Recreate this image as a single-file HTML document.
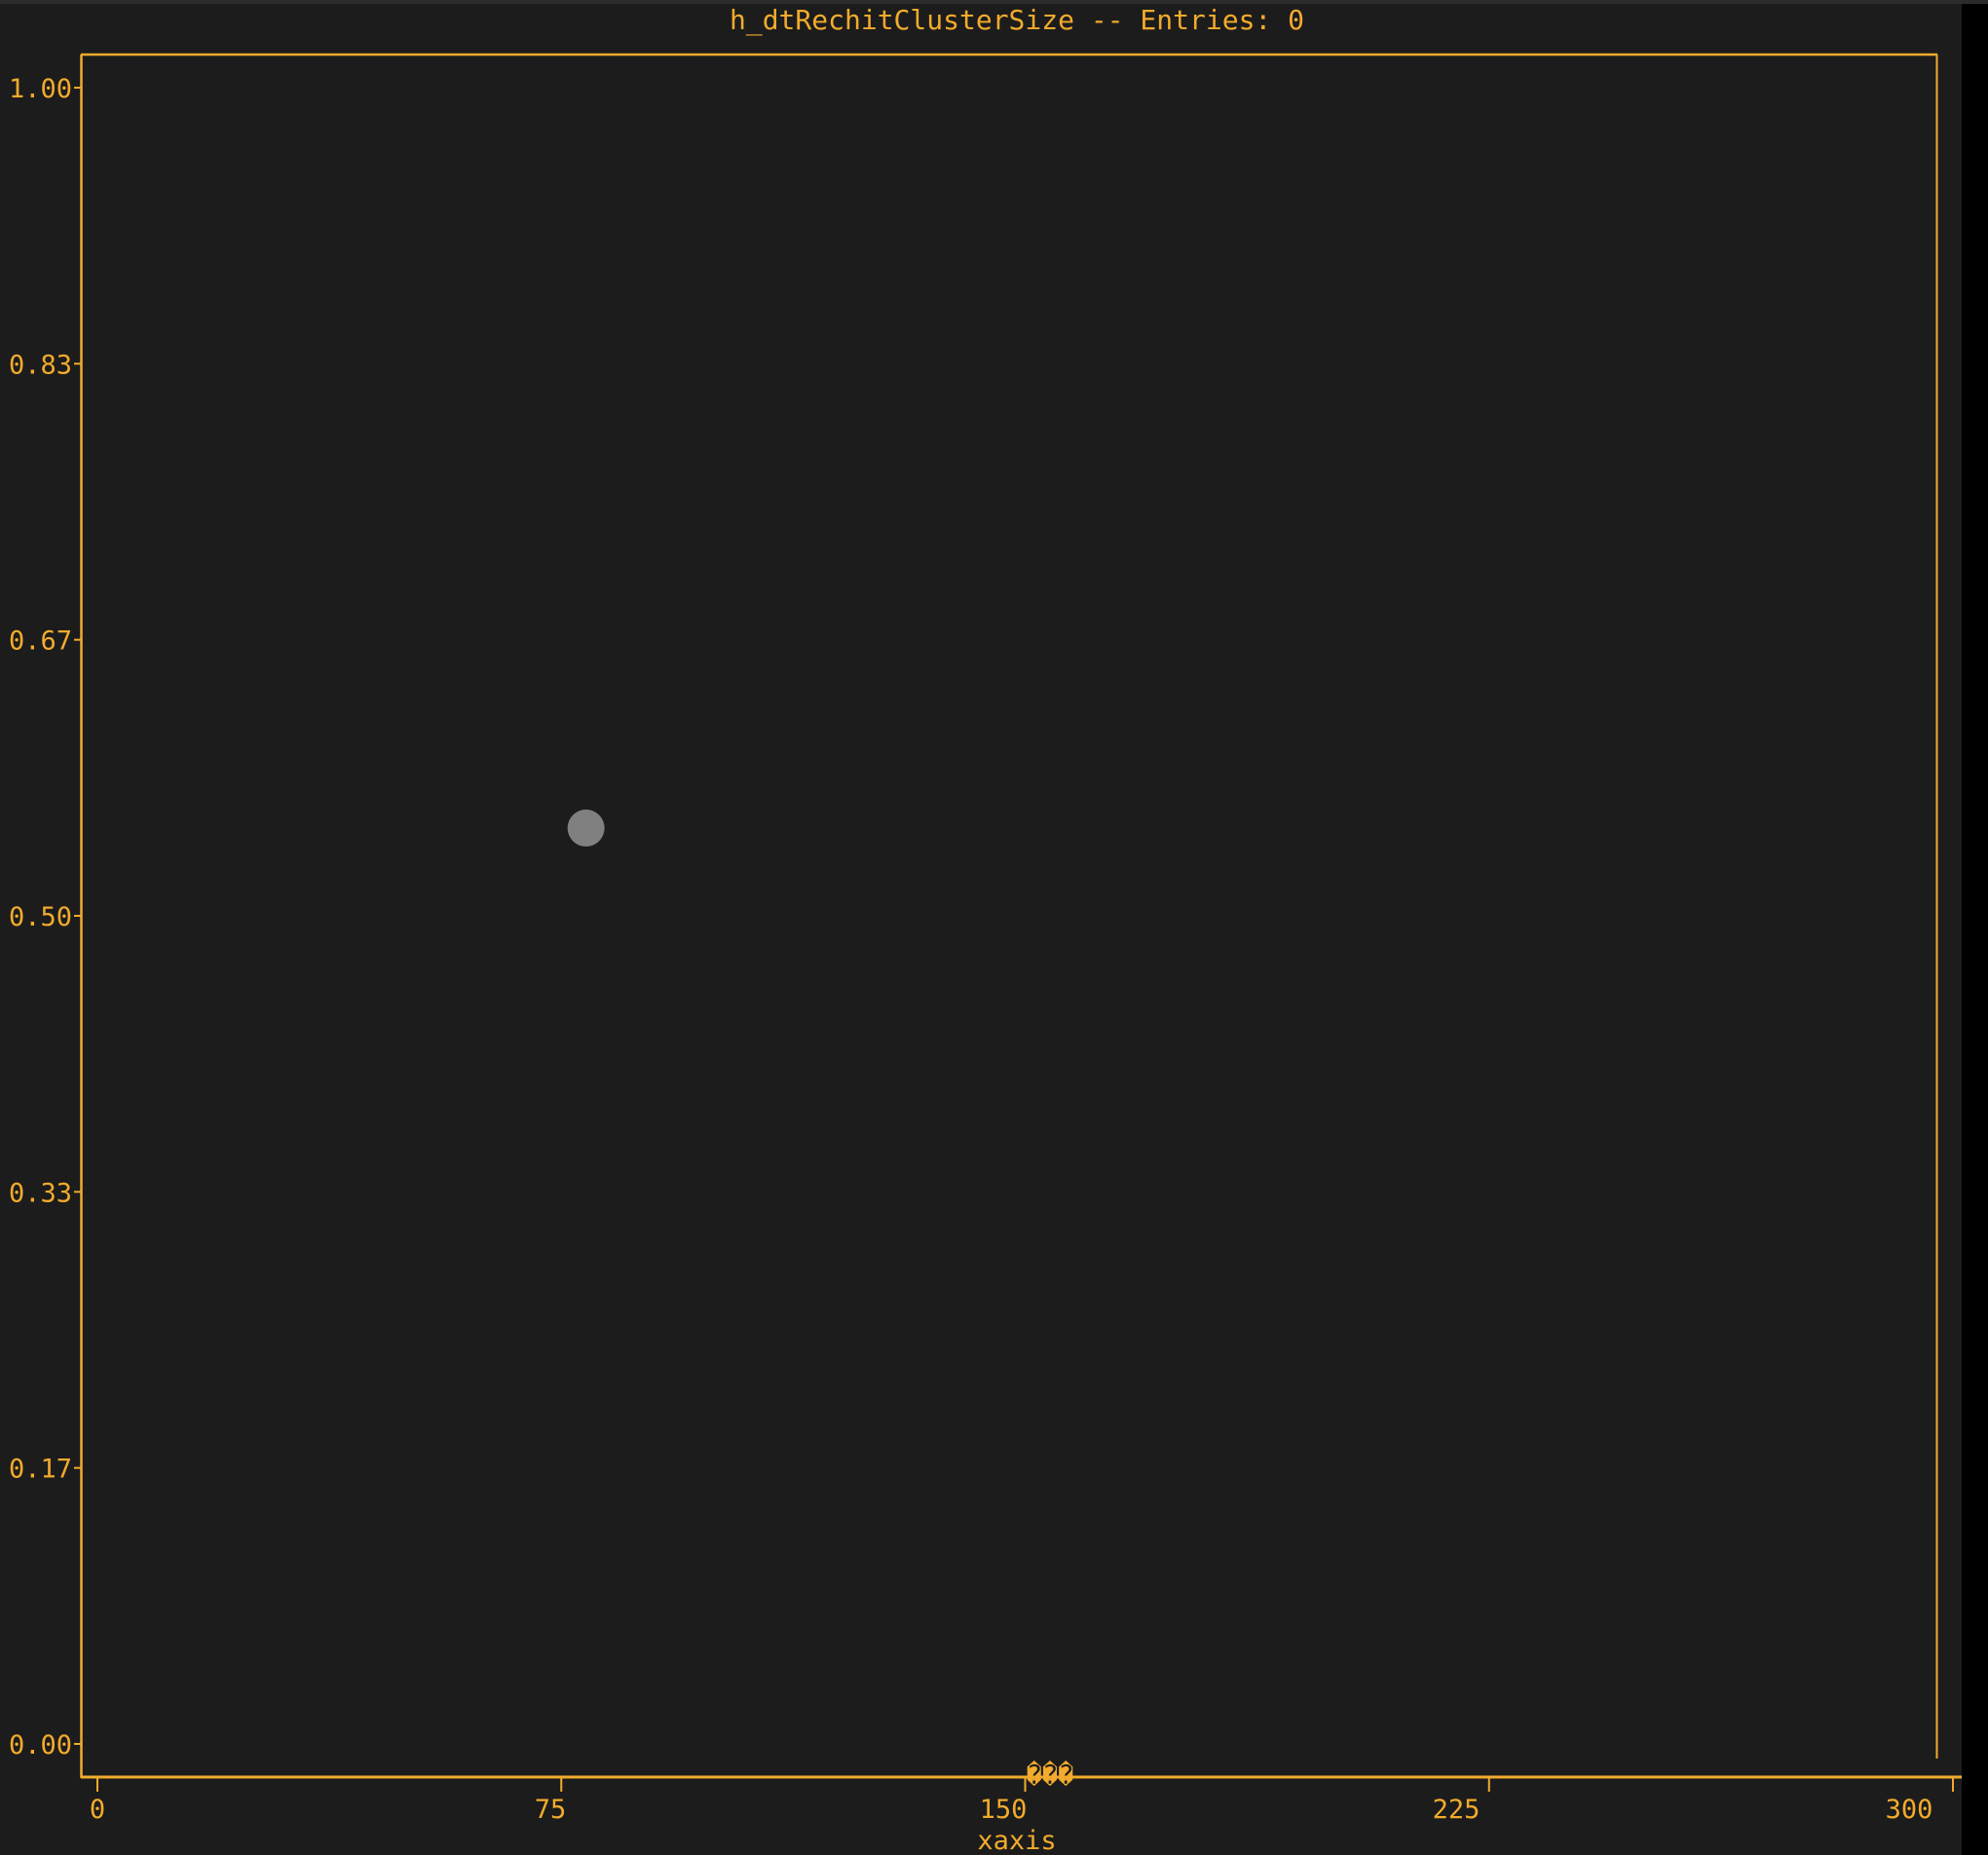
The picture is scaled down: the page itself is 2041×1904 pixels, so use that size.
<!DOCTYPE html>
<html><head><meta charset="utf-8"><style>
html,body{margin:0;padding:0;background:#1c1c1c;}
svg{display:block;}
text{font-family:"DejaVu Sans Mono","Liberation Mono",monospace;fill:#f2ab2c;}
</style></head><body>
<svg id="chart" width="2041" height="1904" xmlns="http://www.w3.org/2000/svg">
<rect x="0" y="0" width="2041" height="1904" fill="#1c1c1c"/>
<rect x="0" y="0" width="2041" height="4" fill="#2b2b2b"/>
<rect x="2014" y="4" width="27" height="1900" fill="#000"/>
<text x="1044" y="30" font-size="28" text-anchor="middle">h_dtRechitClusterSize -- Entries: 0</text>
<g id="frame" stroke="#f2ab2c" fill="none">
<line x1="83" y1="56" x2="1989" y2="56" stroke-width="2.5"/>
<line x1="83.5" y1="56" x2="83.5" y2="1825" stroke-width="2.5"/>
<line x1="1988.5" y1="56" x2="1988.5" y2="1805" stroke-width="2"/>
<line x1="83" y1="1824" x2="2014" y2="1824" stroke-width="3"/>
</g>
<g id="yticks"></g>
<g id="xticks"></g>
<g id="points"></g>
<text x="1078" y="1831" font-size="27" text-anchor="middle">���</text>
<text x="1044" y="1898" font-size="27" text-anchor="middle">xaxis</text>
</svg>
<script>
const yTickValues = [1, 5/6, 2/3, 0.5, 1/3, 1/6, 0];
const yTickLabels = ["1.00", "0.83", "0.67", "0.50", "0.33", "0.17", "0.00"];
const xTickValues = [0, 75, 150, 225, 300];
const xTickLabels = ["0", "75", "150", "225", "300"];
const pointX = [79];
const pointY = [0.553];

const NS = "http://www.w3.org/2000/svg";
function xScale(v){ return 100 + v * 6.35; }
function xLabelScale(v){ return 100 + v * 6.2; }
function yScale(v){ return 1790 - v * 1700; }
function mk(tag, attrs, parent){
  const el = document.createElementNS(NS, tag);
  for (const k in attrs) el.setAttribute(k, attrs[k]);
  parent.appendChild(el);
  return el;
}
const yg = document.getElementById('yticks');
yTickValues.forEach((v, i) => {
  const y = yScale(v);
  const t = mk('line', {x1: 76, y1: y, x2: 83, y2: y, stroke: '#f2ab2c', 'stroke-width': 2}, yg);
  
  
  const l = mk('text', {x: 74, y: y + 10, 'font-size': 27, 'text-anchor': 'end'}, yg);
  
  
  l.textContent = yTickLabels[i];
});
const xg = document.getElementById('xticks');
xTickValues.forEach((v, i) => {
  const x = xScale(v);
  const t = mk('line', {x1: x, y1: 1825, x2: x, y2: 1839, stroke: '#f2ab2c', 'stroke-width': 2}, xg);
  
  
  const l = mk('text', {x: xLabelScale(v), y: 1866, 'font-size': 27, 'text-anchor': 'middle'}, xg);
  
  
  l.textContent = xTickLabels[i];
});
const pg = document.getElementById('points');
pointX.forEach((v, i) => {
  const c = mk('circle', {cx: xScale(v), cy: yScale(pointY[i]), r: 19, fill: '#808080'}, pg);
  
  
});
</script>
</body></html>
